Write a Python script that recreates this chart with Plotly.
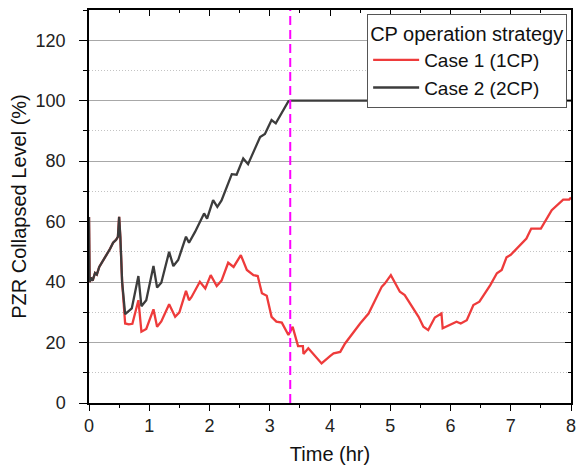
import plotly.graph_objects as go

# Case 1 (1 CP) pressurizer collapsed level
t_case1 = [0.0, 0.01, 0.03, 0.06, 0.1, 0.13, 0.17, 0.2, 0.25, 0.3, 0.35, 0.4, 0.45, 0.48, 0.5, 0.52, 0.55, 0.6,
           0.66, 0.72, 0.82, 0.87, 0.95, 1.07, 1.13, 1.2, 1.33, 1.43, 1.5, 1.61, 1.66, 1.7, 1.84, 1.93, 2.02,
           2.12, 2.2, 2.31, 2.4, 2.52, 2.62, 2.73, 2.8, 2.87, 2.95, 3.03, 3.11, 3.2, 3.31, 3.38, 3.47, 3.55,
           3.56, 3.64, 3.75, 3.86, 4.0, 4.06, 4.17, 4.25, 4.5, 4.64, 4.86, 4.91, 5.01, 5.16, 5.24, 5.47, 5.55,
           5.63, 5.74, 5.85, 5.87, 6.05, 6.1, 6.17, 6.27, 6.38, 6.48, 6.66, 6.77, 6.85, 6.93, 7.0, 7.26, 7.34,
           7.5, 7.68, 7.87, 7.97, 8.0]
lvl_case1 = [61.5, 40.0, 41.5, 40.5, 43.0, 42.5, 45.0, 46.0, 47.5, 49.0, 51.0, 53.0, 54.0, 55.0, 61.6, 55.0, 40.0, 26.3,
             26.0, 26.2, 34.0, 23.6, 24.5, 31.0, 25.2, 27.0, 32.7, 28.5, 30.0, 37.1, 34.0, 35.0, 40.1, 37.9, 42.3,
             38.7, 40.5, 46.4, 45.0, 48.9, 44.0, 42.3, 42.0, 36.3, 35.5, 28.5, 26.9, 26.6, 22.5, 25.2, 18.8, 18.8,
             16.2, 18.1, 15.5, 13.1, 15.5, 16.4, 16.9, 19.7, 26.3, 29.6, 38.5, 39.5, 42.3, 36.8, 35.7, 28.5, 25.2,
             24.1, 28.3, 29.6, 24.7, 26.3, 26.9, 26.3, 27.4, 32.4, 33.5, 39.0, 42.9, 44.0, 48.2, 49.0, 54.4, 57.7,
             57.7, 63.8, 67.3, 67.3, 68.0]

# Case 2 (2 CP) pressurizer collapsed level
t_case2 = [0.0, 0.01, 0.03, 0.06, 0.1, 0.13, 0.17, 0.2, 0.25, 0.3, 0.35, 0.4, 0.45, 0.48, 0.5, 0.52, 0.55, 0.6,
           0.71, 0.82, 0.87, 0.95, 1.07, 1.13, 1.2, 1.33, 1.4, 1.48, 1.61, 1.66, 1.76, 1.91, 1.96, 2.06, 2.13,
           2.2, 2.37, 2.45, 2.56, 2.64, 2.84, 2.92, 3.03, 3.1, 3.31, 3.34, 8.0]
lvl_case2 = [61.5, 40.0, 41.5, 40.5, 43.0, 42.5, 45.0, 46.0, 47.5, 49.0, 51.0, 53.0, 54.0, 55.0, 61.6, 55.0, 40.0, 29.4,
             31.3, 42.0, 32.0, 34.0, 45.3, 38.2, 39.8, 50.0, 45.3, 47.3, 55.0, 53.0, 56.6, 62.7, 61.0, 67.1, 64.9,
             67.0, 75.7, 75.5, 80.9, 79.0, 88.0, 89.0, 93.6, 92.5, 99.8, 100.0, 100.0]

# Time at which the CP operation strategy diverges
t_switch = 3.34
y_span = [0, 130]
x_span = [0, 8]

FONT = "Liberation Sans, Arial, sans-serif"

fig = go.Figure()
fig.add_trace(go.Scatter(x=t_case1, y=lvl_case1, mode="lines", name="Case 1 (1CP)",
                         line=dict(color="#ee3b3b", width=2.3)))
fig.add_trace(go.Scatter(x=t_case2, y=lvl_case2, mode="lines", name="Case 2 (2CP)",
                         line=dict(color="#3c3c3c", width=2.3)))
# switch marker, drawn on the mirrored axis pair (same ranges as the main axes)
fig.add_trace(go.Scatter(x=[t_switch, t_switch], y=y_span, xaxis="x2", yaxis="y2", mode="lines",
                         showlegend=False, hoverinfo="skip",
                         line=dict(color="#ff00ff", width=2, dash="9px,5px")))

tick_font = dict(family=FONT, size=18, color="#222")
mirror_axis = dict(showticklabels=False, showgrid=False, showline=True, linecolor="black", linewidth=1.5,
                   tickcolor="black", tickwidth=1.3, zeroline=False, automargin=False, layer="above traces")

fig.update_layout(
    width=580, height=465,
    margin=dict(l=89, r=9, t=10, b=62, autoexpand=False),
    paper_bgcolor="white", plot_bgcolor="rgba(0,0,0,0)",
    font=dict(family=FONT, color="#111"),
    xaxis=dict(range=x_span, dtick=1, ticks="outside", ticklen=6, tickwidth=1.2, tickcolor="black",
               showline=True, linecolor="black", linewidth=1.5, zeroline=False, tickfont=tick_font,
               title=dict(text="Time (hr)", font=dict(family=FONT, size=20), standoff=12),
               showgrid=False,
               minor=dict(dtick=0.5, ticks="outside", ticklen=3, tickcolor="black", showgrid=False)),
    yaxis=dict(range=y_span, tick0=0, dtick=20, ticks="outside", ticklen=8, tickwidth=1.2, tickcolor="black",
               showline=True, linecolor="black", linewidth=1.5, zeroline=False, tickfont=tick_font,
               ticklabelstandoff=10,
               title=dict(text="PZR Collapsed Level (%)", font=dict(family=FONT, size=20), standoff=4),
               showgrid=True, gridcolor="#a8a8a8", gridwidth=1.3,
               minor=dict(dtick=10, tick0=0, ticks="outside", ticklen=4, tickcolor="black",
                          showgrid=True, gridcolor="#c4c4c4", griddash="1px,2px", gridwidth=1)),
    xaxis2=dict(overlaying="x", side="top", anchor="y2", range=x_span, dtick=1, ticks="inside", ticklen=6,
                minor=dict(dtick=0.5, ticks="inside", ticklen=3, tickcolor="black"), **mirror_axis),
    yaxis2=dict(overlaying="y", side="right", anchor="x2", range=y_span, tick0=0, dtick=20, ticks="inside",
                ticklen=6, minor=dict(dtick=10, tick0=0, ticks="inside", ticklen=3, tickcolor="black"),
                **mirror_axis),
    legend=dict(x=0.992, y=0.99, xanchor="right", yanchor="top",
                bgcolor="white", bordercolor="#555", borderwidth=1,
                title=dict(text="CP operation strategy", font=dict(family=FONT, size=20, color="#111")),
                font=dict(family=FONT, size=19, color="#111"),
                tracegroupgap=0, itemwidth=46),
    showlegend=True,
)

fig.write_html("out.html")
